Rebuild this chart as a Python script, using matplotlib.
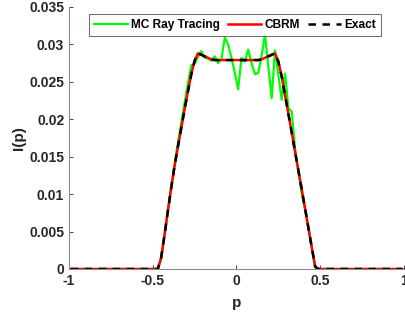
import numpy as np
import matplotlib
matplotlib.use("Agg")
import matplotlib.pyplot as plt

plt.rcParams['font.family'] = ['Liberation Sans', 'DejaVu Sans']
plt.rcParams['font.weight'] = 'bold'
plt.rcParams['axes.unicode_minus'] = False

# bin centres -0.99 ... 0.99
p = np.arange(-0.99, 1.0, 0.02)

# values for p = -0.49 ... 0.49, zero elsewhere
mc_mid = [0.0, 0.0, 0.0013, 0.0046, 0.0078, 0.0110, 0.0140, 0.0168, 0.0195, 0.0222,
          0.0248, 0.0272, 0.0274, 0.0283, 0.0291, 0.0282, 0.0281, 0.0278, 0.0284, 0.0275,
          0.0280, 0.0309, 0.0300, 0.0282, 0.0262, 0.0240, 0.0282, 0.0277, 0.0293, 0.0275,
          0.0260, 0.0262, 0.0285, 0.0313, 0.0270, 0.0228, 0.0292, 0.0259, 0.0226, 0.0261,
          0.0215, 0.0210, 0.0160, 0.0130, 0.0100, 0.0079, 0.0055, 0.0028, 0.0002, 0.0]
exact_mid = [0.0, 0.0, 0.0015, 0.0045, 0.0077, 0.0108, 0.0137, 0.0163, 0.0188, 0.0213,
             0.0237, 0.0260, 0.0278, 0.0288, 0.0286, 0.0284, 0.0282, 0.0280, 0.0279, 0.0279,
             0.0279, 0.0279, 0.0279, 0.0279, 0.0279, 0.0279, 0.0279, 0.0279, 0.0279, 0.0279,
             0.0279, 0.0279, 0.0280, 0.0282, 0.0284, 0.0286, 0.0288, 0.0277, 0.0257, 0.0232,
             0.0207, 0.0182, 0.0156, 0.0131, 0.0106, 0.0080, 0.0054, 0.0028, 0.0003, 0.0]
cbrm_mid = list(exact_mid)

mc = [0.0] * 25 + mc_mid + [0.0] * 25
cbrm = [0.0] * 25 + cbrm_mid + [0.0] * 25
exact = [0.0] * 25 + exact_mid + [0.0] * 25

xticks = [-1, -0.5, 0, 0.5, 1]
xticklabels = ['-1', '-0.5', '0', '0.5', '1']
yticks = [0, 0.005, 0.01, 0.015, 0.02, 0.025, 0.03, 0.035]
yticklabels = ['0', '0.005', '0.01', '0.015', '0.02', '0.025', '0.03', '0.035']

fig = plt.figure(figsize=(4.06, 3.22), dpi=100)
ax = fig.add_axes([0.170, 0.1646, 0.825, 0.814])

ax.plot(p, mc, color='#00ff00', lw=1.6, label='MC Ray Tracing')
ax.plot(p, cbrm, color='#ff0000', lw=1.8, label='CBRM')
ax.plot(p, exact, color='black', lw=1.8, linestyle=(0, (3, 2.6)), label='Exact')

ax.set_xlim(-1, 1)
ax.set_ylim(0, 0.035)
ax.set_xticks(xticks)
ax.set_xticklabels(xticklabels)
ax.set_yticks(yticks)
ax.set_yticklabels(yticklabels)
ax.tick_params(direction='in', length=3, width=0.6, color='#262626',
               labelsize=10, labelcolor='#262626')
for s in ['top', 'right']:
    ax.spines[s].set_visible(False)
for s in ['left', 'bottom']:
    ax.spines[s].set_color('#8c8c8c')
    ax.spines[s].set_linewidth(0.8)

ax.set_xlabel('p', fontsize=11, fontweight='bold', color='#262626', labelpad=6)
ax.set_ylabel('I(p)', fontsize=11, fontweight='bold', color='#262626', labelpad=2)

leg = ax.legend(loc='upper center', bbox_to_anchor=(0.496, 0.972), ncol=3,
                fontsize=8.6, frameon=True, fancybox=False, handlelength=2.8,
                handletextpad=0.25, columnspacing=0.7, borderpad=0.4,
                borderaxespad=0)
leg.get_frame().set_edgecolor('#262626')
leg.get_frame().set_linewidth(0.6)
for t in leg.get_texts():
    t.set_fontweight('bold')

fig.savefig('out.png', dpi=100)
